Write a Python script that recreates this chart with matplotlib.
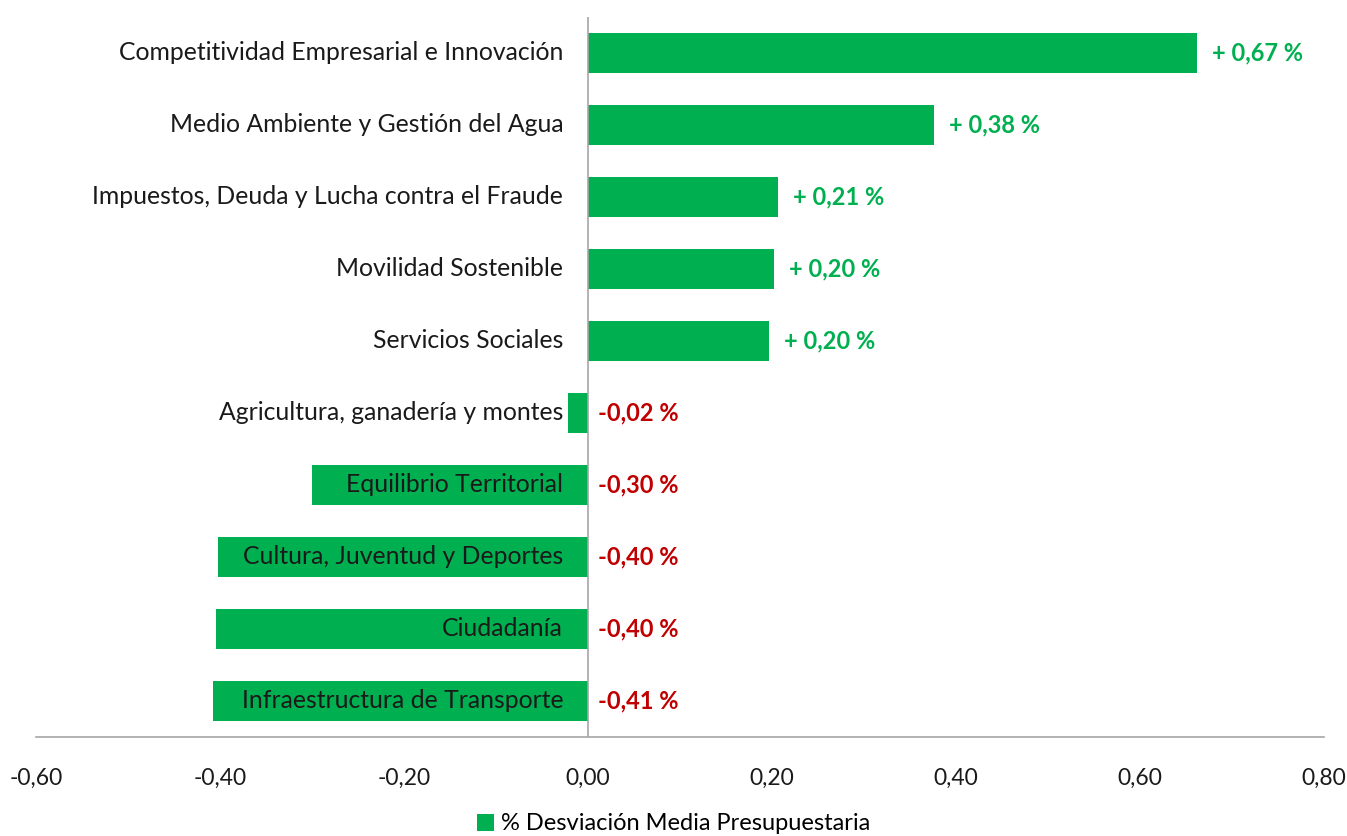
import matplotlib.pyplot as plt

# Data
categories = [
    "Competitividad Empresarial e Innovación",
    "Medio Ambiente y Gestión del Agua",
    "Impuestos, Deuda y Lucha contra el Fraude",
    "Movilidad Sostenible",
    "Servicios Sociales",
    "Agricultura, ganadería y montes",
    "Equilibrio Territorial",
    "Cultura, Juventud y Deportes",
    "Ciudadanía",
    "Infraestructura de Transporte",
]
values = [0.662, 0.376, 0.207, 0.202, 0.197, -0.022, -0.300, -0.402, -0.404, -0.408]
value_labels = ["+ 0,67 %", "+ 0,38 %", "+ 0,21 %", "+ 0,20 %", "+ 0,20 %",
                "-0,02 %", "-0,30 %", "-0,40 %", "-0,40 %", "-0,41 %"]
xticks = [-0.6, -0.4, -0.2, 0.0, 0.2, 0.4, 0.6, 0.8]
xtick_labels = ["-0,60", "-0,40", "-0,20", "0,00", "0,20", "0,40", "0,60", "0,80"]

GREEN = "#00B050"
RED = "#C00000"
plt.rcParams['font.family'] = ['Lato', 'DejaVu Sans']

fig = plt.figure(figsize=(13.47, 8.36), dpi=100)
ax = fig.add_axes([36 / 1347, 1 - 737 / 836, (1324 - 36) / 1347, 720 / 836])

ypos = list(range(len(categories)))[::-1]
bars = ax.barh(ypos, values, height=0.56, color=GREEN, label="% Desviación Media Presupuestaria")

for y, cat, v, lab in zip(ypos, categories, values, value_labels):
    # category name just left of the zero line
    ax.text(-0.027, y, cat, ha='right', va='center', fontsize=17.8, color='#1a1a1a')
    if v >= 0:
        ax.text(v + 0.016, y, lab, ha='left', va='center', fontsize=17,
                fontweight='bold', color=GREEN)
    else:
        ax.text(0.011, y, lab, ha='left', va='center', fontsize=17,
                fontweight='bold', color=RED)

ax.set_xlim(-0.6, 0.8)
ax.set_ylim(-0.5, len(categories) - 0.5)
ax.axvline(0, color='#a6a6a6', lw=1.2)
ax.set_yticks([])
ax.set_xticks(xticks)
ax.set_xticklabels(xtick_labels, fontsize=16.5, color='#1a1a1a')
ax.tick_params(axis='x', length=0, pad=22)
for s in ['top', 'right', 'left']:
    ax.spines[s].set_visible(False)
ax.spines['bottom'].set_color('#a6a6a6')
ax.spines['bottom'].set_linewidth(1.2)

fig.legend(handles=[bars], loc='center', bbox_to_anchor=(0.5, 12 / 836), frameon=False,
           fontsize=17, handlelength=0.7, handleheight=0.7, handletextpad=0.3,
           borderpad=0.1)

fig.savefig("out.png", dpi=100)
